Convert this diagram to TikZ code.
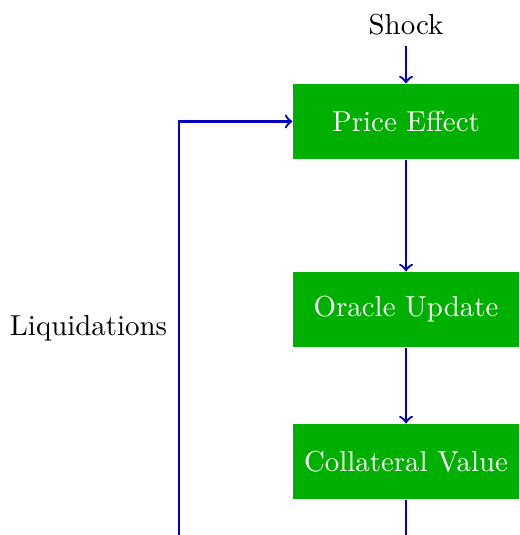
\documentclass[tikz,border=0pt]{standalone}
\usetikzlibrary{arrows}
\definecolor{boxgreen}{RGB}{0,176,0}
\definecolor{linkblue}{RGB}{0,0,190}
\begin{document}
\begin{tikzpicture}[x=0.346pt,y=-0.346pt,
  stage/.style={fill=boxgreen,text=white,minimum width=226*0.346pt,minimum height=75*0.346pt,inner sep=0pt},
  link/.style={draw=linkblue,thick,->}]
\useasboundingbox (0,0) rectangle (519,535);
\node (shock) at (406,25) {Shock};
\node[stage] (price) at (406,121.5) {Price Effect};
\node[stage] (oracle) at (406,309.5) {Oracle Update};
\node[stage] (coll) at (406,461.5) {Collateral Value};
\node (liq) at (88.5,328) {Liquidations};
\coordinate (bl) at (179,535);
\coordinate (br) at (406,535);
\draw[link] (shock) -- (price);
\draw[link] (price) -- (oracle);
\draw[link] (oracle) -- (coll);
\draw[link,-] (coll) -- (br);
\draw[link] (bl) |- (price.west);
\end{tikzpicture}
\end{document}
